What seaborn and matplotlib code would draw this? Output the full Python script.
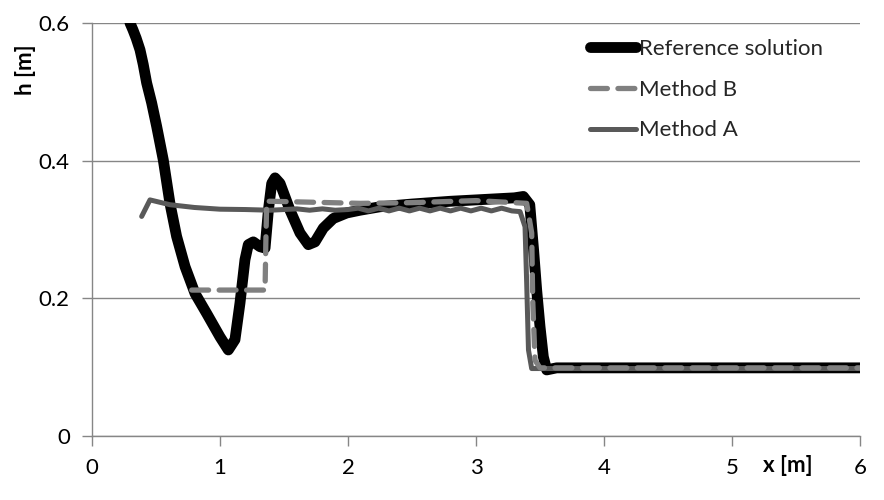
import matplotlib
matplotlib.use("Agg")
import matplotlib.pyplot as plt
import seaborn as sns
import pandas as pd

# Reference solution
ref_x = [0.28, 0.297, 0.320, 0.345, 0.375, 0.400, 0.427, 0.466, 0.505, 0.557, 0.609, 0.661, 0.727, 0.805,
         0.896, 1.00, 1.065, 1.117, 1.156, 1.195, 1.221, 1.260, 1.3125, 1.352, 1.378, 1.404, 1.430, 1.469,
         1.547, 1.625, 1.690, 1.742, 1.807, 1.885, 1.99, 2.094, 2.25, 2.50, 2.80, 3.10, 3.30, 3.37, 3.42,
         3.45, 3.474, 3.50, 3.526, 3.552, 3.63, 6.00]
ref_h = [0.625, 0.600, 0.590, 0.578, 0.561, 0.540, 0.513, 0.484, 0.450, 0.401, 0.338, 0.290, 0.246, 0.207,
         0.178, 0.144, 0.125, 0.140, 0.193, 0.256, 0.278, 0.282, 0.275, 0.273, 0.328, 0.367, 0.375, 0.367,
         0.328, 0.295, 0.278, 0.282, 0.302, 0.316, 0.324, 0.328, 0.333, 0.337, 0.341, 0.344, 0.346, 0.348, 0.336,
         0.270, 0.212, 0.159, 0.115, 0.096, 0.099, 0.099]

# Method B
b_x = [0.779, 1.352, 1.358, 1.365, 1.40, 2.094, 2.50, 3.00, 3.396, 3.435, 3.443, 3.461, 3.50, 6.00]
b_h = [0.212, 0.212, 0.280, 0.341, 0.341, 0.338, 0.339, 0.342, 0.338, 0.295, 0.198, 0.110, 0.099, 0.099]

# Method A
a_x = [0.388, 0.453, 0.609, 0.80, 1.00, 1.20, 1.39, 1.50, 1.60, 1.70, 1.80, 1.90, 2.00, 2.08, 2.16,
       2.24, 2.32, 2.40, 2.48, 2.56, 2.64, 2.72, 2.80, 2.88, 2.96, 3.04, 3.12, 3.20, 3.28, 3.344,
       3.383, 3.396, 3.41, 3.435, 6.00]
a_h = [0.319, 0.343, 0.336, 0.332, 0.3295, 0.329, 0.328, 0.329, 0.330, 0.328, 0.330, 0.328, 0.329, 0.331, 0.327,
       0.331, 0.327, 0.331, 0.327, 0.331, 0.327, 0.331, 0.327, 0.331, 0.327, 0.331, 0.327, 0.331, 0.327, 0.326,
       0.304, 0.222, 0.125, 0.098, 0.098]

x_ticks = [0, 1, 2, 3, 4, 5, 6]
y_ticks = [0, 0.2, 0.4, 0.6]
y_tick_labels = ["0", "0.2", "0.4", "0.6"]

sns.set_theme(style="white")
plt.rcParams['font.family'] = ['Lato', 'DejaVu Sans']

fig = plt.figure(figsize=(8.84, 5.0), dpi=100)
ax = fig.add_axes([92/884, 64/500, 768/884, 413/500])

df_ref = pd.DataFrame({"x": ref_x, "h": ref_h})
df_b = pd.DataFrame({"x": b_x, "h": b_h})
df_a = pd.DataFrame({"x": a_x, "h": a_h})

sns.lineplot(data=df_ref, x="x", y="h", sort=False, ax=ax, color="black", linewidth=7.8,
             solid_capstyle="round", solid_joinstyle="round", label="Reference solution", zorder=3)
sns.lineplot(data=df_b, x="x", y="h", sort=False, ax=ax, color="#808080", linewidth=3.8,
             dashes=False, label="Method B", zorder=5)
sns.lineplot(data=df_a, x="x", y="h", sort=False, ax=ax, color="#595959", linewidth=3.6,
             solid_capstyle="round", solid_joinstyle="round", label="Method A", zorder=4)
lines = ax.get_lines()
lines[1].set_linestyle((0, (3.2, 2.0)))
lines[1].set_dash_capstyle("round")

ax.set_xlim(0, 6)
ax.set_ylim(0, 0.6)
ax.set_xticks(x_ticks)
ax.set_yticks(y_ticks)
ax.set_yticklabels(y_tick_labels)
ax.grid(axis="y", color="#868686", linewidth=1.0)
ax.set_axisbelow(True)
for s in ["top", "right"]:
    ax.spines[s].set_visible(False)
for s in ["left", "bottom"]:
    ax.spines[s].set_color("#868686")
    ax.spines[s].set_linewidth(1.0)
ax.tick_params(axis="both", which="both", direction="out", length=7, width=1.0, color="#868686",
               labelsize=16, labelcolor="black", pad=9, bottom=True, left=True)
ax.set_xlabel("")
ax.set_ylabel("")
fig.text(25/884, 1 - 70/500, "h [m]", rotation=90, ha="center", va="center", fontsize=16,
         fontweight="bold", color="black")
fig.text(788/884, 1 - 466/500, "x [m]", ha="center", va="center", fontsize=16,
         fontweight="bold", color="black")

leg = ax.legend(loc="upper left", bbox_to_anchor=(590/884, 1 - 39/500), bbox_transform=fig.transFigure,
                frameon=False, fontsize=16, handlelength=2.05, handletextpad=0.15,
                labelspacing=0.93, borderpad=0.0, borderaxespad=0.0)
for h in leg.get_lines():
    h.set_solid_capstyle("round")

fig.savefig("out.png", dpi=100)
